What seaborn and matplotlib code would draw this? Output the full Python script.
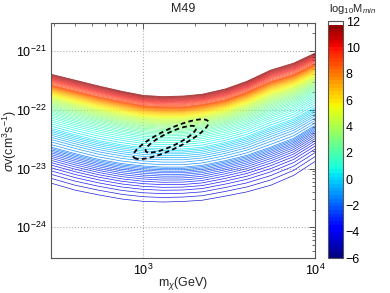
import numpy as np
import matplotlib
matplotlib.use("Agg")
import matplotlib.pyplot as plt
import seaborn as sns
from matplotlib.colors import ListedColormap, Normalize
from matplotlib.cm import ScalarMappable
from matplotlib.ticker import LogLocator, NullFormatter, FixedLocator

# ---------------- data ----------------
masses = [290, 400, 550, 750, 1000, 1300, 1700, 2200, 3000, 4000, 5500, 7500, 10000]  # GeV
key_levels = [-4.6, -1.5, 0.3, 2.3, 5.0, 9.0, 11.75]                                  # log10 Mmin
# log10(sigma v) of the constant-Mmin curves, one row per key level
ls_lo = [-23.27, -23.39, -23.47, -23.54, -23.58, -23.59, -23.58, -23.56, -23.49, -23.42, -23.31, -23.14, -22.90]
ls_a = [-22.63, -22.74, -22.84, -22.91, -22.95, -22.97, -22.97, -22.94, -22.86, -22.77, -22.63, -22.48, -22.26]
ls_b = [-22.31, -22.42, -22.52, -22.59, -22.64, -22.66, -22.66, -22.63, -22.55, -22.45, -22.29, -22.15, -21.95]
ls_c = [-22.01, -22.12, -22.21, -22.29, -22.35, -22.37, -22.36, -22.33, -22.25, -22.14, -21.98, -21.84, -21.65]
ls_d = [-21.78, -21.89, -21.99, -22.07, -22.13, -22.15, -22.15, -22.11, -22.03, -21.91, -21.74, -21.61, -21.43]
ls_e = [-21.58, -21.68, -21.78, -21.86, -21.93, -21.95, -21.95, -21.91, -21.83, -21.70, -21.52, -21.40, -21.22]
ls_top = [-21.39, -21.49, -21.59, -21.68, -21.75, -21.77, -21.76, -21.73, -21.64, -21.51, -21.32, -21.20, -21.03]

# best-fit region (log10 space): centre, widths, correlation, delta-chi2 levels
fit_logm = 3.16
fit_logsv = -22.50
fit_sig_logm = 0.088
fit_sig_logsv = 0.136
fit_rho = 0.83
cl_levels = [2.8, 6.18]

x_major = [1e3, 1e4]
y_major = [1e-24, 1e-23, 1e-22, 1e-21]
cbar_ticks = [-6, -4, -2, 0, 2, 4, 6, 8, 10, 12]

# ---------------- style ----------------
sns.set_theme(style="white")
plt.rcParams["font.family"] = ["Liberation Sans", "DejaVu Sans"]
plt.rcParams["mathtext.fontset"] = "custom"
plt.rcParams["mathtext.rm"] = "Liberation Sans"
plt.rcParams["mathtext.it"] = "Liberation Sans:italic"
plt.rcParams["mathtext.sf"] = "Liberation Sans"

base = plt.get_cmap("jet")(np.linspace(0, 1, 64))
base[-1] = [1, 1, 1, 1]
cmap = ListedColormap(base)
norm = Normalize(vmin=-6, vmax=12)

fig = plt.figure(figsize=(3.9, 2.93), dpi=100)
ax = fig.add_axes([0.131, 0.119, 0.677, 0.8027])

rows = np.array([ls_lo, ls_a, ls_b, ls_c, ls_d, ls_e, ls_top])
X = np.tile(np.array(masses, float), (len(key_levels), 1))
Y = 10.0 ** rows
Z = np.repeat(np.array(key_levels, float)[:, None], len(masses), axis=1)
ax.contour(X, Y, Z, levels=np.arange(-4.55, 11.71, 0.2), cmap=cmap, norm=norm,
           linewidths=0.5, alpha=0.88)

# best-fit confidence contours
gm = np.linspace(fit_logm - 0.5, fit_logm + 0.5, 200)
gs = np.linspace(fit_logsv - 0.8, fit_logsv + 0.8, 200)
GM, GS = np.meshgrid(gm, gs)
u = (GM - fit_logm) / fit_sig_logm
v = (GS - fit_logsv) / fit_sig_logsv
chi2 = (u ** 2 - 2 * fit_rho * u * v + v ** 2) / (1 - fit_rho ** 2)
cs = ax.contour(10 ** GM, 10 ** GS, chi2, levels=cl_levels, colors="black",
                linewidths=1.3, linestyles=[(0, (2.6, 1.8))])

ax.set_xscale("log")
ax.set_yscale("log")
ax.set_xlim(290, 1e4)
ax.set_ylim(3e-25, 3e-21)
ax.xaxis.set_major_locator(FixedLocator(x_major))
ax.yaxis.set_major_locator(FixedLocator(y_major))
ax.yaxis.set_minor_locator(LogLocator(base=10, subs=np.arange(2, 10), numticks=10))
ax.yaxis.set_minor_formatter(NullFormatter())
ax.xaxis.set_minor_formatter(NullFormatter())

ax.grid(True, which="major", linestyle=":", color="#b0b0b0", linewidth=0.8)
for s in ax.spines.values():
    s.set_color("#555555")
    s.set_linewidth(0.8)
ax.tick_params(which="both", direction="in", top=True, right=True,
               labelsize=9, colors="#555555", labelcolor="black")
ax.tick_params(which="major", length=4, width=0.7)
ax.tick_params(which="minor", length=2, width=0.6)

ax.set_title("M49", fontsize=9, pad=8)
ax.set_xlabel(r"m$_\chi$(GeV)", fontsize=9)
ax.set_ylabel(r"$\sigma$v(cm$^3$s$^{-1}$)", fontsize=9)
ax.xaxis.set_label_coords(0.5, -0.07)
ax.yaxis.set_label_coords(-0.122, 0.5)

cax = fig.add_axes([0.841, 0.119, 0.038, 0.809])
cb = fig.colorbar(ScalarMappable(norm=norm, cmap=cmap), cax=cax, ticks=cbar_ticks)
cb.ax.tick_params(labelsize=9, length=2, width=0.6, direction="in", colors="#333333",
                  labelcolor="black", pad=2)
cb.ax.set_yticklabels([str(t).replace("-", "\u2212") for t in cbar_ticks])
cb.outline.set_linewidth(0.8)
cb.outline.set_edgecolor("#555555")
fig.text(0.905, 0.968, r"log$_{10}$M$_{min}$", ha="center", va="center", fontsize=8)

fig.savefig("out.png", dpi=100)
